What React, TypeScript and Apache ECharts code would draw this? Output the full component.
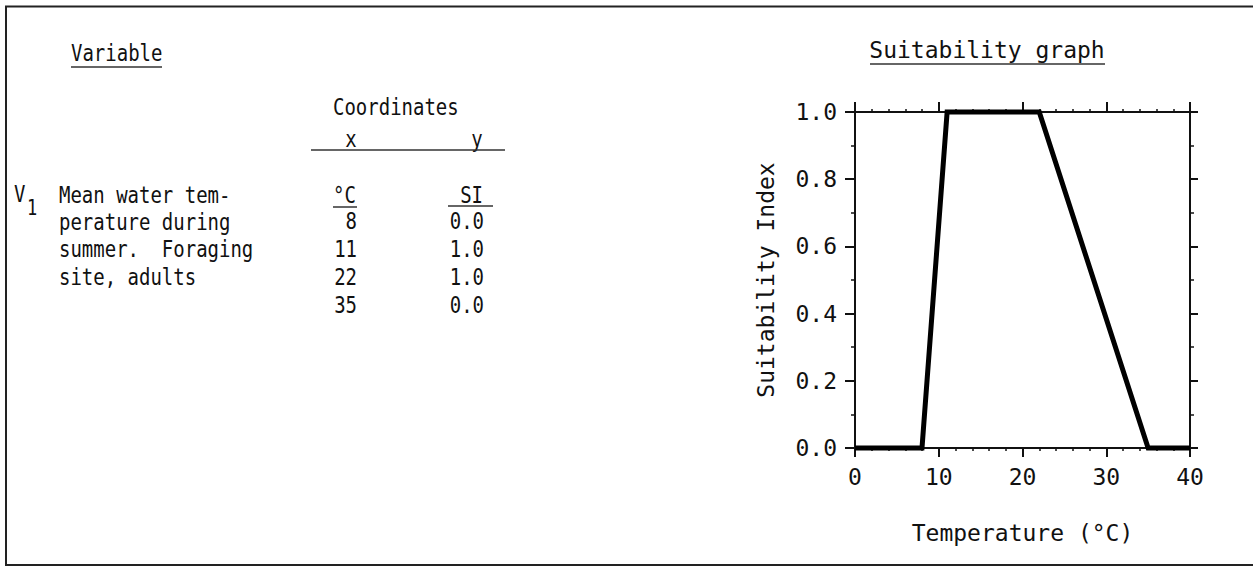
import React, { useEffect, useRef } from "react";
import * as echarts from "echarts";

const temps = [0, 8, 11, 22, 35, 40];
const si = [0, 0, 1, 1, 0, 0];
const tableX = ["8", "11", "22", "35"];
const tableY = ["0.0", "1.0", "1.0", "0.0"];
const descLines = ["Mean water tem-", "perature during", "summer.  Foraging", "site, adults"];
const xTicks = [0, 10, 20, 30, 40];
const yTicks = [0, 0.2, 0.4, 0.6, 0.8, 1.0];

const FONT = "'DejaVu Sans Mono', 'Liberation Mono', monospace";
const INK = "#111";

export default function App() {
  const ref = useRef<HTMLDivElement>(null);
  useEffect(() => {
    if (!ref.current) return;
    const chart = echarts.init(ref.current, null, { renderer: "svg" });
    const lt = (text: string, x: number, y: number, align: string = "left") => ({
      type: "text",
      x,
      y,
      scaleY: 1.2,
      style: { text, font: `19px ${FONT}`, fill: INK, align, verticalAlign: "middle" },
    });
    const hl = (x1: number, x2: number, y: number, w = 1.5) => ({
      type: "line",
      shape: { x1, y1: y, x2, y2: y },
      style: { stroke: "#333", lineWidth: w },
    });
    const rowY = [221, 249, 277, 305];
    const graphics: any[] = [
      {
        type: "rect",
        shape: { x: 6, y: 6.5, width: 1260, height: 558.5 },
        style: { fill: "none", stroke: "#222", lineWidth: 2 },
      },
      lt("Variable", 71, 53),
      hl(71, 162, 67),
      lt("Coordinates", 333, 107),
      lt("x", 351, 139, "center"),
      lt("y", 477, 139, "center"),
      hl(311, 505, 150),
      lt("V", 14, 194),
      { ...lt("1", 27, 208), style: { text: "1", font: `17px ${FONT}`, fill: INK, align: "left", verticalAlign: "middle" } },
      ...descLines.map((t, i) => lt(t, 59, 195 + i * 27.3)),
      lt("°C", 333, 195),
      hl(333, 357, 207),
      lt("SI", 483, 195, "right"),
      hl(448, 493, 206),
      ...tableX.map((t, i) => lt(t, 357, rowY[i], "right")),
      ...tableY.map((t, i) => lt(t, 484, rowY[i], "right")),
      {
        type: "text",
        x: 987,
        y: 50,
        style: { text: "Suitability graph", font: `23px ${FONT}`, fill: INK, align: "center", verticalAlign: "middle" },
      },
      hl(870, 1105, 64),
    ];
    const axisCommon = {
      axisLine: { show: true, onZero: false, lineStyle: { color: INK, width: 2 } },
      splitLine: { show: false },
      minorTick: { show: true, splitNumber: 5, length: 3, lineStyle: { color: INK, width: 1.5 } },
      minorSplitLine: { show: false },
    };
    chart.setOption({
      animation: false,
      backgroundColor: "#fff",
      grid: { left: 855, right: 63, top: 112, bottom: 121, containLabel: false },
      xAxis: [
        {
          type: "value",
          min: xTicks[0],
          max: xTicks[xTicks.length - 1],
          interval: 10,
          position: "bottom",
          ...axisCommon,
          axisTick: { show: true, length: 9, lineStyle: { color: INK, width: 2 } },
          axisLabel: { show: true, fontFamily: FONT, fontSize: 23, color: INK, margin: 17 },
          name: "Temperature (°C)",
          nameLocation: "middle",
          nameGap: 73,
          nameTextStyle: { fontFamily: FONT, fontSize: 23, color: INK },
        },
        {
          type: "value",
          min: xTicks[0],
          max: xTicks[xTicks.length - 1],
          interval: 10,
          position: "top",
          ...axisCommon,
          axisTick: { show: true, length: 10, lineStyle: { color: INK, width: 2 } },
          axisLabel: { show: false },
        },
      ],
      yAxis: [
        {
          type: "value",
          min: yTicks[0],
          max: yTicks[yTicks.length - 1],
          interval: 0.2,
          position: "left",
          ...axisCommon,
          minorTick: { ...axisCommon.minorTick, splitNumber: 2, length: 4 },
          axisTick: { show: true, length: 10, lineStyle: { color: INK, width: 2 } },
          axisLabel: {
            show: true,
            fontFamily: FONT,
            fontSize: 23,
            color: INK,
            margin: 18,
            formatter: (v: number) => v.toFixed(1),
          },
          name: "Suitability Index",
          nameLocation: "middle",
          nameRotate: 90,
          nameGap: 78,
          nameTextStyle: { fontFamily: FONT, fontSize: 23, color: INK },
        },
        {
          type: "value",
          min: yTicks[0],
          max: yTicks[yTicks.length - 1],
          interval: 0.2,
          position: "right",
          ...axisCommon,
          minorTick: { ...axisCommon.minorTick, splitNumber: 2, length: 4 },
          axisTick: { show: true, length: 8, lineStyle: { color: INK, width: 2 } },
          axisLabel: { show: false },
        },
      ],
      series: [
        {
          type: "line",
          xAxisIndex: 0,
          yAxisIndex: 0,
          data: temps.map((t, i) => [t, si[i]]),
          showSymbol: false,
          symbol: "none",
          clip: false,
          lineStyle: { color: "#000", width: 5, join: "miter" },
        },
      ],
      graphic: graphics,
    });
    return () => chart.dispose();
  }, []);
  return (
    <div
      ref={ref}
      style={{ position: "fixed", left: 0, top: 0, width: 1253, height: 569, background: "#fff" }}
    />
  );
}
